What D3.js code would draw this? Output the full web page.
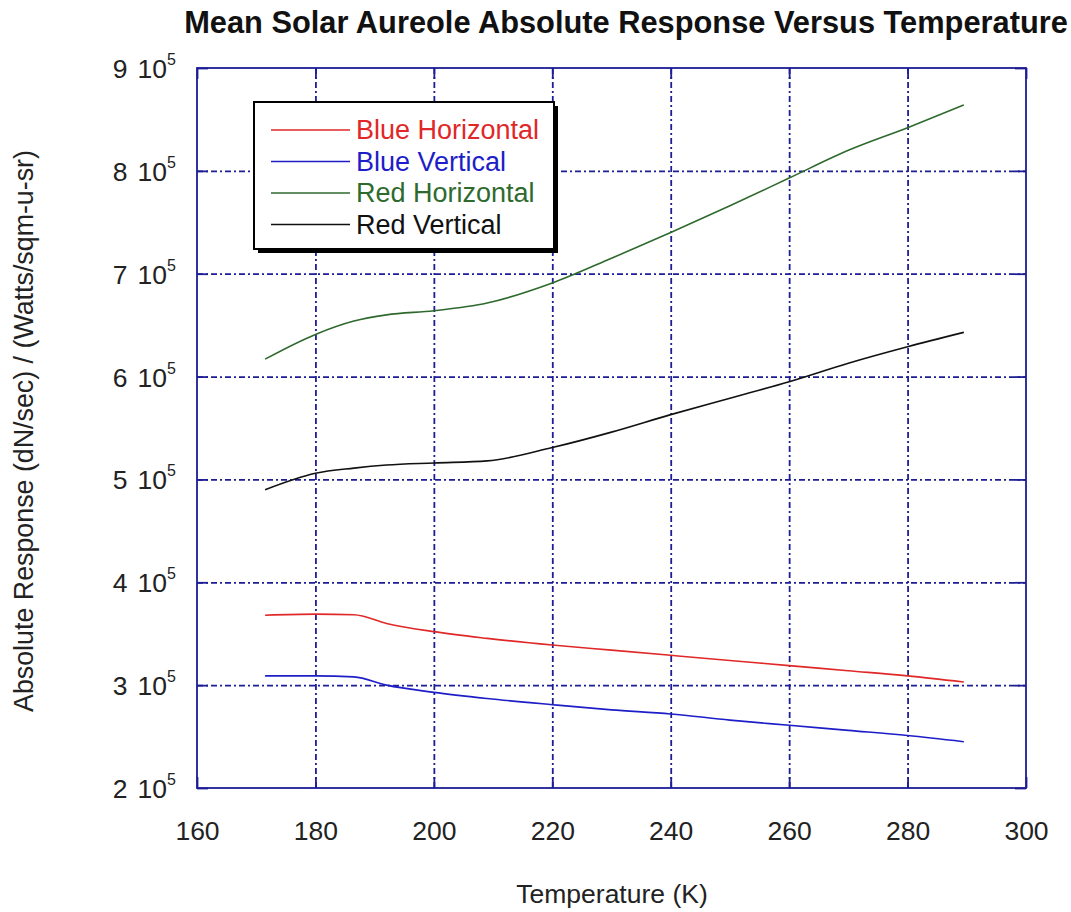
<!DOCTYPE html>
<html><head><meta charset="utf-8">
<script src="https://cdn.jsdelivr.net/npm/d3@7"></script>
<style>
body{margin:0;background:#fff;}
svg text{font-family:"Liberation Sans",Arial,sans-serif;}
</style></head>
<body><svg id="c" width="1071" height="912"></svg>
<script>
const temps = [171.5,180,186.5,192,200,209,220,230,240,250,260,270,280,289.5];
const blueHorizontal = [3.68e5,3.69e5,3.685e5,3.60e5,3.52e5,3.455e5,3.39e5,3.34e5,3.29e5,3.24e5,3.19e5,3.14e5,3.09e5,3.03e5];
const blueVertical   = [3.09e5,3.09e5,3.08e5,3.00e5,2.93e5,2.87e5,2.81e5,2.76e5,2.72e5,2.66e5,2.61e5,2.56e5,2.51e5,2.45e5];
const redHorizontal  = [6.17e5,6.41e5,6.54e5,6.60e5,6.64e5,6.715e5,6.91e5,7.15e5,7.40e5,7.66e5,7.93e5,8.20e5,8.42e5,8.64e5];
const redVertical    = [4.90e5,5.06e5,5.11e5,5.14e5,5.16e5,5.18e5,5.31e5,5.46e5,5.63e5,5.79e5,5.95e5,6.13e5,6.29e5,6.43e5];
const seriesNames = ["Blue Horizontal","Blue Vertical","Red Horizontal","Red Vertical"];
const seriesColors = ["#e02828","#1e1ec8","#2e6a2e","#111111"];
const xTicks = [160,180,200,220,240,260,280,300];
const yTicks = [2e5,3e5,4e5,5e5,6e5,7e5,8e5,9e5];
const yTickMantissa = ["2","3","4","5","6","7","8","9"];
const yTickExp = "5";
const title = "Mean Solar Aureole Absolute Response Versus Temperature";
const xLabel = "Temperature (K)";
const yLabel = "Absolute Response (dN/sec) / (Watts/sqm-u-sr)";

const L=197, R=1026, T=68, B=788;
const svg = d3.select("#c");
const x = d3.scaleLinear().domain([160,300]).range([L,R]);
const y = d3.scaleLinear().domain([2e5,9e5]).range([B,T]);
const navy = "#1d1d96";

// grid
const gx = svg.append("g").attr("transform",`translate(0,${B})`)
  .call(d3.axisBottom(x).tickValues(xTicks.slice(1,-1)).tickSize(-(B-T)).tickFormat(""));
const gy = svg.append("g").attr("transform",`translate(${L},0)`)
  .call(d3.axisLeft(y).tickValues(yTicks.slice(1,-1)).tickSize(-(R-L)).tickFormat(""));
[gx,gy].forEach(g=>{g.select(".domain").remove();
  g.selectAll("line").attr("stroke",navy).attr("stroke-width",1.8).attr("stroke-dasharray","6,3,2,3");});

// inward ticks on all sides
const tl=11;
const axB = svg.append("g").attr("transform",`translate(0,${B})`).call(d3.axisBottom(x).tickValues(xTicks).tickSizeInner(-tl).tickSizeOuter(0).tickPadding(tl+22));
const axT = svg.append("g").attr("transform",`translate(0,${T})`).call(d3.axisTop(x).tickValues(xTicks).tickSizeInner(-tl).tickSizeOuter(0).tickFormat(""));
const axL = svg.append("g").attr("transform",`translate(${L},0)`).call(d3.axisLeft(y).tickValues(yTicks).tickSizeInner(-tl).tickSizeOuter(0).tickFormat(""));
const axR = svg.append("g").attr("transform",`translate(${R},0)`).call(d3.axisRight(y).tickValues(yTicks).tickSizeInner(-tl).tickSizeOuter(0).tickFormat(""));
[axB,axT,axL,axR].forEach(g=>{g.select(".domain").remove();g.selectAll("line").attr("stroke",navy).attr("stroke-width",1.8);});
axB.selectAll("text").attr("font-size",26.5).attr("fill","#222").attr("font-family","Liberation Sans, Arial, sans-serif");

// frame
svg.append("rect").attr("x",L).attr("y",T).attr("width",R-L).attr("height",B-T)
  .attr("fill","none").attr("stroke",navy).attr("stroke-width",1.8);

// y tick labels
yTicks.forEach((v,i)=>{
  const t = svg.append("text").attr("x",176).attr("y",y(v)+10).attr("text-anchor","end")
    .attr("font-size",26.5).attr("fill","#222");
  t.append("tspan").text(yTickMantissa[i]);
  t.append("tspan").attr("dx",10).text("10");
  t.append("tspan").attr("font-size",16).attr("dy",-13).text(yTickExp);
});

// lines
const all=[blueHorizontal,blueVertical,redHorizontal,redVertical];
const line = d3.line().curve(d3.curveMonotoneX).x((d,i)=>x(temps[i])).y(d=>y(d));
all.forEach((s,k)=>{
  svg.append("path").datum(s).attr("d",line).attr("fill","none")
    .attr("stroke",seriesColors[k]).attr("stroke-width",1.6);
});

// legend
const lx=254, ly=102, lw=300, lh=147;
svg.append("rect").attr("x",lx+4).attr("y",ly+4).attr("width",lw).attr("height",lh).attr("fill","#000");
svg.append("rect").attr("x",lx).attr("y",ly).attr("width",lw).attr("height",lh).attr("fill","#fff").attr("stroke","#000").attr("stroke-width",2);
seriesNames.forEach((n,i)=>{
  const yy = ly+28+i*31.5;
  svg.append("line").attr("x1",271).attr("x2",350).attr("y1",yy).attr("y2",yy).attr("stroke",seriesColors[i]).attr("stroke-width",1.6);
  svg.append("text").attr("x",356).attr("y",yy+9).attr("font-size",27).attr("fill",seriesColors[i]).text(n);
});

// titles
svg.append("text").attr("x",626).attr("y",33).attr("text-anchor","middle").attr("font-size",30.8).attr("font-weight","bold").attr("fill","#111").text(title);
svg.append("text").attr("x",612).attr("y",903).attr("text-anchor","middle").attr("font-size",26.5).attr("fill","#222").text(xLabel);
svg.append("text").attr("transform","translate(33,431) rotate(-90)").attr("text-anchor","middle").attr("font-size",26.8).attr("fill","#222").text(yLabel);
</script></body></html>
